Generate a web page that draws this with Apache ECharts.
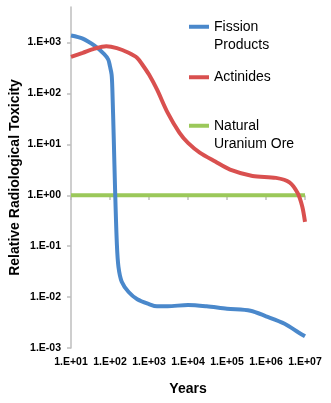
<!DOCTYPE html>
<html>
<head>
<meta charset="utf-8">
<script src="https://cdn.jsdelivr.net/npm/echarts@6/dist/echarts.min.js"></script>
<style>
  html, body { margin: 0; padding: 0; background: #ffffff; }
  #chart { width: 331px; height: 403px; }
</style>
</head>
<body>
<div id="chart"></div>
<script>
// Relative radiological toxicity of spent fuel over time (log-log)
const fissionYears = [10, 20, 40, 70, 90, 100, 110, 115, 125, 135, 150, 165, 200, 300, 500, 1000, 1600, 3000, 1e4, 3e4, 1e5, 4e5, 1e6, 3e6, 7e6, 1e7];
const fissionValues = [1380, 1200, 870, 600, 465, 340, 235, 120, 12.5, 1.3, 0.11, 0.039, 0.020, 0.0126, 0.0091, 0.0073, 0.0066, 0.0066, 0.0070, 0.0066, 0.0059, 0.0054, 0.0042, 0.0030, 0.0020, 0.0017];

const actinideYears = [10, 20, 40, 80, 150, 300, 500, 700, 1000, 1600, 3000, 6000, 1e4, 2e4, 5e4, 1.2e5, 4.5e5, 1.8e6, 4e6, 6.5e6, 8.5e6, 1e7];
const actinideValues = [525, 630, 760, 850, 780, 630, 500, 355, 235, 120, 42, 17, 10.7, 6.9, 4.6, 3.2, 2.4, 2.2, 1.8, 1.1, 0.6, 0.3];

const oreYears = [10, 1e7];
const oreValues = [1, 1];

const seriesNames = ['Fission\nProducts', 'Actinides', 'Natural\nUranium Ore'];
const seriesColors = ['#4A88CB', '#D9504F', '#9BC85A'];

const yTickLabels = ['1.E-03', '1.E-02', '1.E-01', '1.E+00', '1.E+01', '1.E+02', '1.E+03'];
const xTickLabels = ['1.E+01', '1.E+02', '1.E+03', '1.E+04', '1.E+05', '1.E+06', '1.E+07'];

const pairs = (xs, ys) => xs.map((x, i) => [x, ys[i]]);

// label lookup by decade exponent
function decadeLabel(v, labels, firstExp) {
  const e = Math.log10(v);
  const r = Math.round(e);
  if (Math.abs(e - r) > 1e-6) return '';
  return labels[r - firstExp] || '';
}

const FONT = 'Liberation Sans';
const gray = '#BEBEBE';
const LH = 18.5;

const chart = echarts.init(document.getElementById('chart'), null, { renderer: 'canvas' });

// one legend block per series; two-line names keep the swatch level with their first line
function legendFor(idx, top) {
  const twoLine = seriesNames[idx].indexOf('\n') >= 0;
  return {
    data: [seriesNames[idx]],
    left: 189,
    top: top,
    padding: 0,
    itemWidth: 20,
    itemHeight: 14,
    icon: 'path://M0,5 L20,5 L20,9 L0,9 Z',
    selectedMode: false,
    formatter: name => (twoLine ? '\n' + name : name),
    textStyle: {
      fontFamily: FONT,
      fontSize: 14,
      color: '#000',
      lineHeight: LH
    }
  };
}

chart.setOption({
  animation: false,
  textStyle: { fontFamily: FONT },
  grid: { left: 71, right: 26, top: 7, bottom: 55, containLabel: false, outerBoundsMode: 'none' },
  legend: [legendFor(0, -1), legendFor(1, 68), legendFor(2, 98)],
  xAxis: [
    {
      type: 'log',
      logBase: 10,
      min: 10,
      max: 1e7,
      position: 'bottom',
      name: 'Years',
      nameLocation: 'middle',
      nameGap: 34,
      nameMoveOverlap: false,
      nameTextStyle: { fontFamily: FONT, fontSize: 14, fontWeight: 'bold', color: '#000' },
      axisLine: { show: false },
      axisTick: { show: false },
      splitLine: { show: false },
      axisLabel: {
        margin: 9,
        fontFamily: FONT,
        fontSize: 10.5,
        fontWeight: 'bold',
        color: '#000',
        formatter: v => decadeLabel(v, xTickLabels, 1)
      }
    },
    {
      // crossing line at y = 1 with downward ticks
      type: 'log',
      logBase: 10,
      min: 10,
      max: 1e7,
      position: 'bottom',
      offset: -152,
      axisLine: { show: true, lineStyle: { color: gray, width: 1.5 } },
      axisTick: { show: true, length: 4, lineStyle: { color: gray, width: 1.5 } },
      axisLabel: { show: false },
      splitLine: { show: false }
    }
  ],
  yAxis: {
    type: 'log',
    logBase: 10,
    min: 0.001,
    max: 5000,
    name: 'Relative Radiological Toxicity',
    nameLocation: 'middle',
    nameGap: 49,
    nameMoveOverlap: false,
    nameTextStyle: { fontFamily: FONT, fontSize: 14, fontWeight: 'bold', color: '#000' },
    axisLine: { show: true, lineStyle: { color: gray, width: 1.5 } },
    axisTick: { show: true, length: 4, lineStyle: { color: gray, width: 1.5 } },
    splitLine: { show: false },
    axisLabel: {
      margin: 10,
      fontFamily: FONT,
      fontSize: 10.5,
      fontWeight: 'bold',
      color: '#000',
      showMaxLabel: false,
      formatter: v => decadeLabel(v, yTickLabels, -3)
    }
  },
  series: [
    {
      name: seriesNames[0],
      type: 'line',
      data: pairs(fissionYears, fissionValues),
      symbol: 'none',
      smooth: 0.3,
      color: seriesColors[0],
      lineStyle: { width: 4, color: seriesColors[0] },
      z: 3
    },
    {
      name: seriesNames[1],
      type: 'line',
      data: pairs(actinideYears, actinideValues),
      symbol: 'none',
      smooth: 0.3,
      color: seriesColors[1],
      lineStyle: { width: 4, color: seriesColors[1] },
      z: 4
    },
    {
      name: seriesNames[2],
      type: 'line',
      data: pairs(oreYears, oreValues),
      symbol: 'none',
      color: seriesColors[2],
      lineStyle: { width: 4, color: seriesColors[2] },
      z: 2
    }
  ]
});
</script>
</body>
</html>
